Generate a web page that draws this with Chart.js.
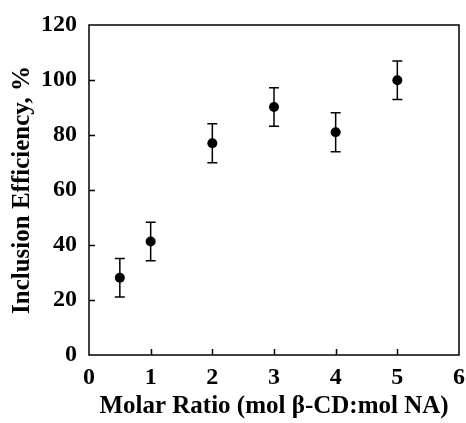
<!DOCTYPE html>
<html>
<head>
<meta charset="utf-8">
<script src="https://cdn.jsdelivr.net/npm/chart.js@4.4.0/dist/chart.umd.min.js"></script>
<style>
  html, body { margin: 0; padding: 0; background: #fff; }
  #wrap { width: 466px; height: 423px; }
</style>
</head>
<body>
<div id="wrap"><canvas id="chart"></canvas></div>
<script>
// molar ratio (mol b-CD : mol NA) vs inclusion efficiency
var ratio = [0.5, 1, 2, 3, 4, 5];
var efficiency = [28.1, 41.3, 77.0, 90.2, 81.0, 99.9];
var errVals = [7.0, 7.0, 7.1, 7.0, 7.1, 7.0];
var xTicks = [0, 1, 2, 3, 4, 5, 6];
var yTicks = [0, 20, 40, 60, 80, 100, 120];

var serif = "'Liberation Serif', 'Times New Roman', serif";

// frame + inward ticks, like the original plot
var framePlugin = {
	id: 'frame',
	afterDraw: function(chart) {
		var c = chart.ctx, a = chart.chartArea;
		var xs = chart.scales.x, ys = chart.scales.y;
		c.save();
		c.strokeStyle = '#000';
		c.lineWidth = 1.5;
		c.strokeRect(a.left, a.top, a.right - a.left, a.bottom - a.top);
		c.beginPath();
		xTicks.slice(1, -1).forEach(function(v) {
			var px = Math.round(xs.getPixelForValue(v)) + 0.5;
			c.moveTo(px, a.bottom);
			c.lineTo(px, a.bottom - 6);
		});
		yTicks.slice(1, -1).forEach(function(v) {
			var py = Math.round(ys.getPixelForValue(v)) + 0.5;
			c.moveTo(a.left, py);
			c.lineTo(a.left + 6, py);
		});
		c.stroke();
		c.restore();
	}
};

var errorBarPlugin = {
	id: 'errbars',
	beforeDatasetsDraw: function(chart) {
		var c = chart.ctx;
		var xs = chart.scales.x, ys = chart.scales.y;
		c.save();
		c.strokeStyle = '#000';
		c.lineWidth = 1.5;
		ratio.forEach(function(r, i) {
			var px = xs.getPixelForValue(r);
			var top = ys.getPixelForValue(efficiency[i] + errVals[i]);
			var bot = ys.getPixelForValue(efficiency[i] - errVals[i]);
			c.beginPath();
			c.moveTo(px, top); c.lineTo(px, bot);
			c.moveTo(px - 5, top); c.lineTo(px + 5, top);
			c.moveTo(px - 5, bot); c.lineTo(px + 5, bot);
			c.stroke();
		});
		c.restore();
	}
};

var ctx = document.getElementById('chart').getContext('2d');
var chart = new Chart(ctx, {
	type: 'scatter',
	data: {
		datasets: [{
			data: ratio.map(function(r, i) { return {x: r, y: efficiency[i]}; }),
			pointRadius: 5,
			pointHoverRadius: 5,
			pointBackgroundColor: '#000',
			pointBorderColor: '#000',
			pointBorderWidth: 0,
			showLine: false
		}]
	},
	options: {
		responsive: true,
		maintainAspectRatio: false,
		animation: false,
		layout: { padding: { left: 0, right: 7, top: 25, bottom: 0 } },
		plugins: {
			legend: { display: false },
			tooltip: { enabled: false }
		},
		scales: {
			x: {
				type: 'linear',
				min: 0, max: 6,
				afterBuildTicks: function(s) { s.ticks = xTicks.map(function(v) { return {value: v}; }); },
				afterFit: function(s) { s.height = 68; s.paddingRight = 0; s.paddingLeft = 0; },
				grid: { display: false, drawTicks: false },
				border: { display: false },
				ticks: {
					padding: 8,
					color: '#000',
					font: { family: serif, size: 24, weight: 'bold' }
				},
				title: {
					display: true,
					text: 'Molar Ratio (mol β-CD:mol NA)',
					color: '#000',
					font: { family: serif, size: 25, weight: 'bold' },
					padding: { top: 0, bottom: 1 }
				}
			},
			y: {
				type: 'linear',
				min: 0, max: 120,
				afterBuildTicks: function(s) { s.ticks = yTicks.map(function(v) { return {value: v}; }); },
				afterFit: function(s) { s.width = 89; s.paddingTop = 0; s.paddingBottom = 0; },
				grid: { display: false, drawTicks: false },
				border: { display: false },
				ticks: {
					padding: 12,
					color: '#000',
					font: { family: serif, size: 24, weight: 'bold' }
				},
				title: {
					display: true,
					text: 'Inclusion Efficiency, %',
					color: '#000',
					font: { family: serif, size: 25, weight: 'bold' },
					padding: { top: 8, bottom: 0 }
				}
			}
		}
	},
	plugins: [framePlugin, errorBarPlugin]
});
</script>
</body>
</html>
